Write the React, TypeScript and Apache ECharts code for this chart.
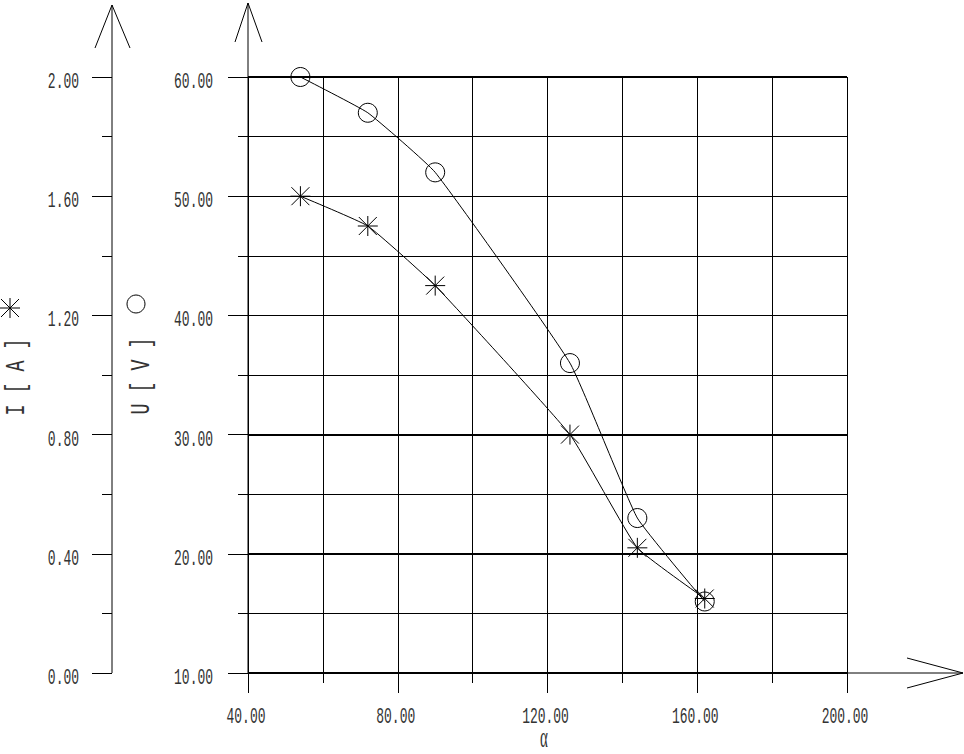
import React, { useEffect, useRef } from 'react';
import * as echarts from 'echarts';

// measured points (alpha in degrees)
const alpha = [54, 72, 90, 126, 144, 162];
const voltage = [60, 57, 52, 36, 23, 16];
const current = [1.6, 1.5, 1.3, 0.8, 0.42, 0.25];

// tick labels
const alphaTicks = [40, 80, 120, 160, 200];
const voltageTicks = [10, 20, 30, 40, 50, 60];
const currentTicks = [0, 0.4, 0.8, 1.2, 1.6, 2.0];
const boldLevels = [10, 20, 30, 60];

const W = 964;
const H = 754;
const GRID = { left: 248, top: 77, width: 599, height: 596 };
const I_OFFSET = 136;
const INK = '#000';
const TEXT = '#333';
const MONO = '"Liberation Mono", "DejaVu Sans Mono", monospace';
const STAR = 'path://M10 0V20M0 10H20M1 1L19 19M19 1L1 19';

const last = (a: number[]) => a[a.length - 1];

const axisBase = (ticks: number[]) => ({
  type: 'value' as const,
  min: ticks[0],
  max: last(ticks),
  interval: ticks[1] - ticks[0],
  axisLine: { show: false },
  axisTick: { show: true, length: 20, lineStyle: { color: INK, width: 1 } },
  minorTick: { show: true, splitNumber: 2, length: 10, lineStyle: { color: INK, width: 1 } },
  axisLabel: { show: false },
});

const label = (text: string, x: number, y: number, align: string) => ({
  type: 'text',
  x,
  y,
  scaleX: 0.59,
  silent: true,
  style: {
    text,
    fontFamily: MONO,
    fontSize: 22,
    fill: TEXT,
    align,
    verticalAlign: 'middle',
    textAlign: align,
    textVerticalAlign: 'middle',
  },
});

const title = (text: string, x: number, y: number) => ({
  type: 'text',
  x,
  y,
  rotation: Math.PI / 2,
  scaleX: 0.68,
  silent: true,
  style: {
    text,
    fontFamily: MONO,
    fontSize: 27,
    fill: TEXT,
    align: 'center',
    verticalAlign: 'middle',
    textAlign: 'center',
    textVerticalAlign: 'middle',
  },
});

const line = (x1: number, y1: number, x2: number, y2: number) => ({
  type: 'line',
  silent: true,
  shape: { x1, y1, x2, y2 },
  style: { stroke: INK, lineWidth: 1 },
});

const arrow = (points: number[][]) => ({
  type: 'polyline',
  silent: true,
  shape: { points },
  style: { stroke: INK, lineWidth: 1, fill: 'none' },
});

const App: React.FC = () => {
  const chartRef = useRef<HTMLDivElement>(null);

  useEffect(() => {
    if (!chartRef.current) return;
    const chart = echarts.init(chartRef.current, undefined, { renderer: 'svg' });

    chart.setOption({
      animation: false,
      grid: { ...GRID, containLabel: false },
      xAxis: {
        ...axisBase(alphaTicks),
        splitLine: { show: true, lineStyle: { color: INK, width: 1 } },
        minorSplitLine: { show: true, lineStyle: { color: INK, width: 1 } },
      },
      yAxis: [
        {
          ...axisBase(voltageTicks),
          position: 'left',
          splitLine: { show: true, lineStyle: { color: INK, width: 1 } },
          minorSplitLine: { show: true, lineStyle: { color: INK, width: 1 } },
        },
        {
          ...axisBase(currentTicks),
          position: 'left',
          offset: I_OFFSET,
          splitLine: { show: false },
          minorSplitLine: { show: false },
        },
      ],
      series: [
        {
          type: 'line',
          name: 'U',
          yAxisIndex: 0,
          data: alpha.map((a, i) => [a, voltage[i]]),
          smooth: 0.12,
          symbol: 'circle',
          symbolSize: 19,
          clip: false,
          itemStyle: { color: 'transparent', borderColor: INK, borderWidth: 1 },
          lineStyle: { color: INK, width: 1 },
          emphasis: { disabled: true },
          markLine: {
            silent: true,
            symbol: 'none',
            label: { show: false },
            lineStyle: { color: INK, width: 2, type: 'solid' },
            data: boldLevels.map((v) => ({ yAxis: v })),
          },
        },
        {
          type: 'line',
          name: 'I',
          yAxisIndex: 1,
          data: alpha.map((a, i) => [a, current[i]]),
          smooth: 0.12,
          symbol: STAR,
          symbolSize: 20,
          clip: false,
          itemStyle: { color: 'transparent', borderColor: INK, borderWidth: 1 },
          lineStyle: { color: INK, width: 1 },
          emphasis: { disabled: true },
        },
      ],
    });

    // axis lines, arrows and labels placed through the axes' own scales
    const px = (v: number) => chart.convertToPixel({ xAxisIndex: 0 }, v) as number;
    const pu = (v: number) => chart.convertToPixel({ yAxisIndex: 0 }, v) as number;
    const pi = (v: number) => chart.convertToPixel({ yAxisIndex: 1 }, v) as number;

    const x0 = px(alphaTicks[0]);
    const y0 = pu(voltageTicks[0]);
    const iAxisX = x0 - I_OFFSET;

    const graphic: any[] = [
      line(iAxisX, y0, iAxisX, 5),
      line(x0, y0, x0, 3),
      line(x0, y0, 963, y0),
      arrow([[iAxisX - 17, 48], [iAxisX, 5], [iAxisX + 18, 48]]),
      arrow([[x0 - 13, 42], [x0, 3], [x0 + 14, 42]]),
      arrow([[907, y0 - 15], [963, y0], [907, y0 + 15]]),
      ...alphaTicks.map((v) => label(v.toFixed(2), px(v) - 2, y0 + 44, 'center')),
      ...voltageTicks.map((v) => label(v.toFixed(2), x0 - 35, pu(v) + 5, 'right')),
      ...currentTicks.map((v) => label(v.toFixed(2), iAxisX - 33, pi(v) + 5, 'right')),
      title('I [ A ]', 17, 377),
      title('U [ V ]', 142, 376),
      {
        type: 'text',
        x: 544,
        y: 737,
        scaleX: 0.5,
        silent: true,
        style: {
          text: 'α',
          fontFamily: '"Liberation Serif", serif',
          fontSize: 30,
          fill: TEXT,
          align: 'center',
          verticalAlign: 'middle',
          textAlign: 'center',
          textVerticalAlign: 'middle',
        },
      },
      // legend marks next to the axis titles
      {
        type: 'group',
        x: 10,
        y: 308,
        silent: true,
        children: [
          line(0, -10, 0, 10),
          line(-10, 0, 10, 0),
          line(-9, -9, 9, 9),
          line(9, -9, -9, 9),
        ],
      },
      {
        type: 'circle',
        silent: true,
        shape: { cx: 136, cy: 304, r: 9 },
        style: { fill: 'none', stroke: INK, lineWidth: 1 },
      },
    ];

    chart.setOption({ graphic });

    return () => {
      chart.dispose();
    };
  }, []);

  return (
    <div style={{ position: 'absolute', left: 0, top: 0, width: W, height: H, background: '#fff' }}>
      <div ref={chartRef} style={{ width: W, height: H }} />
    </div>
  );
};

export default App;
